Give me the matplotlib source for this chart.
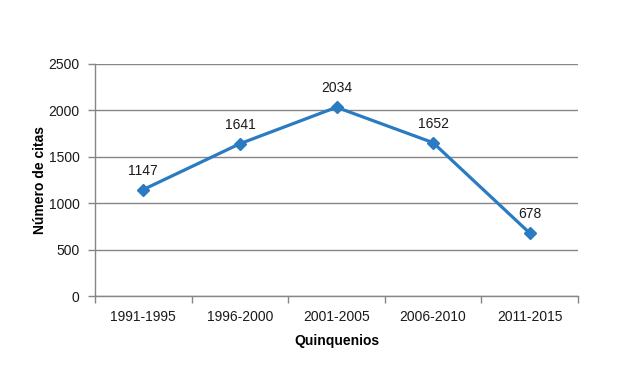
import matplotlib
matplotlib.use("Agg")
import matplotlib.pyplot as plt

categories = ["1991-1995", "1996-2000", "2001-2005", "2006-2010", "2011-2015"]
values = [1147, 1641, 2034, 1652, 678]
yticks = [0, 500, 1000, 1500, 2000, 2500]

plt.rcParams['font.family'] = ['Liberation Sans', 'DejaVu Sans']
fig = plt.figure(figsize=(6.44, 3.88), dpi=100)
ax = fig.add_axes([95/644, 1-296/388, (578-95)/644, (296-64)/388])

x = list(range(len(categories)))
color = "#2a7bc2"
ax.plot(x, values, color=color, lw=2.3, marker="D", ms=6, zorder=3)
for xi, v in zip(x, values):
    ax.annotate(str(v), (xi, v), xytext=(0, 13.5), textcoords="offset points",
                ha="center", va="center", fontsize=10, color="#1a1a1a")

ax.set_xlim(-0.5, len(categories) - 0.5)
ax.set_ylim(0, 2500)
ax.set_yticks(yticks)
ax.set_yticklabels([str(t) for t in yticks], fontsize=10, color="#1a1a1a")
ax.set_xticks(x)
ax.set_xticklabels(categories, fontsize=10, color="#1a1a1a")
ax.tick_params(axis="x", which="major", length=0, pad=10)
ax.set_xticks([i - 0.5 for i in range(len(categories) + 1)], minor=True)
ax.tick_params(axis="x", which="minor", length=5, color="#868686", width=1)
ax.tick_params(axis="y", length=5, color="#868686", width=1, pad=6)
ax.grid(axis="y", color="#868686", lw=1)
ax.set_axisbelow(True)
for s in ["top", "right"]:
    ax.spines[s].set_visible(False)
for s in ["left", "bottom"]:
    ax.spines[s].set_color("#868686")
    ax.spines[s].set_linewidth(1)

ax.set_xlabel("Quinquenios", fontsize=10, fontweight="bold", labelpad=7)
ax.set_ylabel("Número de citas", fontsize=10, fontweight="bold", labelpad=1)

fig.savefig("out.png", dpi=100)
